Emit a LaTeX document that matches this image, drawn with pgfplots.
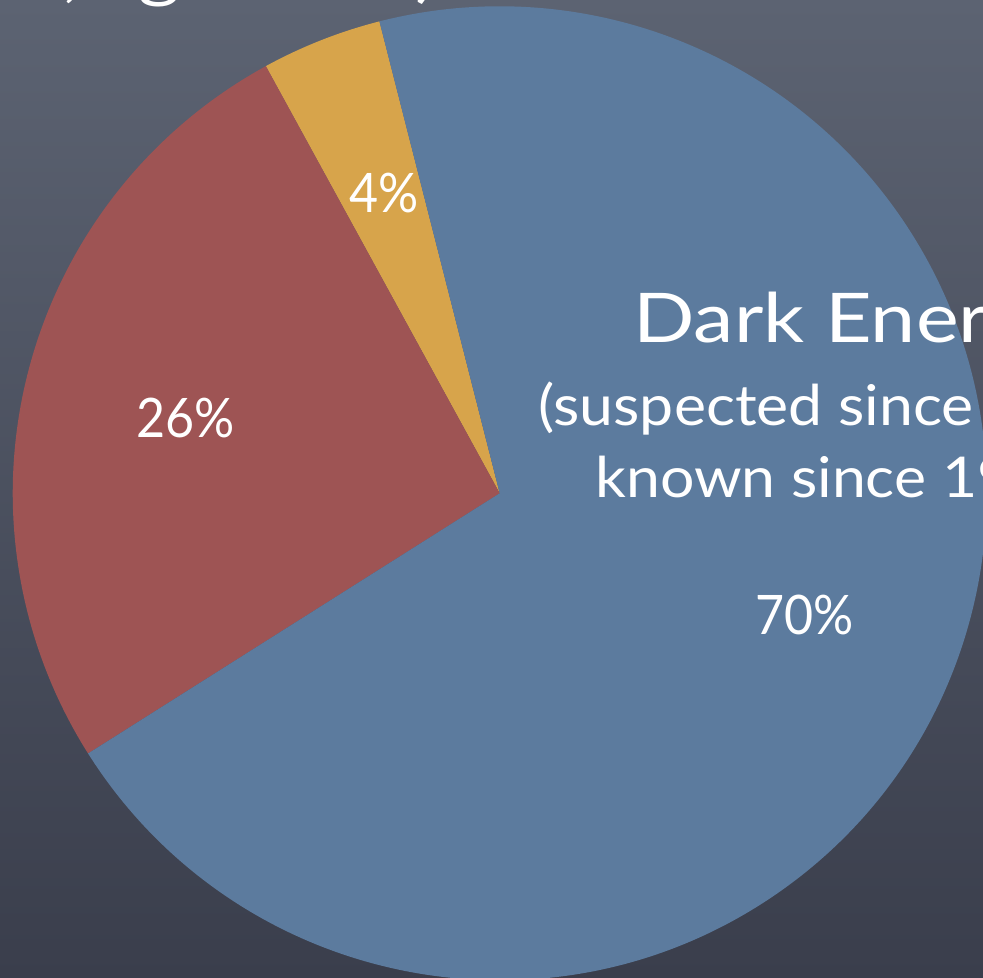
\documentclass[border=0pt]{standalone}
\usepackage{pgfplots}
\usepackage{pgfplotstable}
\pgfplotsset{compat=1.18}
\usepackage{fontspec}
\setmainfont{Lato}
\newfontfamily\titlefont[FakeStretch=1.18]{Lato}
\newfontfamily\subfont[FakeStretch=1.08]{Lato}
\newfontfamily\pctfont[FakeStretch=0.92]{Lato}
\definecolor{bgtop}{RGB}{92,99,114}
\definecolor{bgbot}{RGB}{58,62,76}
\definecolor{sliceblue}{RGB}{92,123,158}
\definecolor{slicered}{RGB}{158,84,84}
\definecolor{sliceyellow}{RGB}{215,164,75}

% pie data (percent)
\pgfplotstableread{
label value
Yellow 4
Red 26
Blue 70
}\piedata
\pgfplotstablegetelem{0}{value}\of\piedata \let\vA\pgfplotsretval
\pgfplotstablegetelem{1}{value}\of\piedata \let\vB\pgfplotsretval
\pgfplotstablegetelem{2}{value}\of\piedata \let\vC\pgfplotsretval
\pgfmathsetmacro\aS{104.3}
\pgfmathsetmacro\aA{\aS+3.6*\vA}
\pgfmathsetmacro\aB{\aA+3.6*\vB}
\pgfmathsetmacro\aC{\aB+3.6*\vC}

\begin{document}
\begin{tikzpicture}
\useasboundingbox (0,0) rectangle (9.83,9.78);
\clip (0,0) rectangle (9.83,9.78);
\shade[top color=bgtop, bottom color=bgbot] (0,0) rectangle (9.83,9.78);
\begin{axis}[at={(0,0)}, anchor=origin, x=0.01cm, y=0.01cm,
  xmin=0, xmax=983, ymin=0, ymax=978, hide axis, clip=false]
  \fill[sliceyellow] (axis cs:500,485) -- ++(\aS:4.87cm) arc[start angle=\aS, end angle=\aA, radius=4.87cm] -- cycle;
  \fill[slicered] (axis cs:500,485) -- ++(\aA:4.87cm) arc[start angle=\aA, end angle=\aB, radius=4.87cm] -- cycle;
  \fill[sliceblue] (axis cs:500,485) -- ++(\aB:4.87cm) arc[start angle=\aB, end angle=\aC, radius=4.87cm] -- cycle;
  \node[anchor=base, inner sep=0, text=white, font=\pctfont\fontsize{15.5}{18}\selectfont] at (axis cs:384,766) {4\%};
  \node[anchor=base, inner sep=0, text=white, font=\pctfont\fontsize{15.5}{18}\selectfont] at (axis cs:186,541) {26\%};
  \node[anchor=base, inner sep=0, text=white, font=\pctfont\fontsize{15.5}{18}\selectfont] at (axis cs:805,344) {70\%};
  \node[anchor=base west, inner sep=0, text=white, font=\titlefont\fontsize{19.5}{22}\selectfont] at (axis cs:633,636) {Dark Energy};
  \node[anchor=base west, inner sep=0, text=white, font=\subfont\fontsize{16}{19}\selectfont] at (axis cs:538,553) {(suspected since 1980s,};
  \node[anchor=base west, inner sep=0, text=white, font=\subfont\fontsize{16}{19}\selectfont] at (axis cs:595,481) {known since 1998)};
  \node[anchor=base east, inner sep=0, text=white, font=\titlefont\fontsize{19.5}{22}\selectfont] at (axis cs:82,984) {(stars,};
  \node[anchor=base west, inner sep=0, text=white, font=\titlefont\fontsize{19.5}{22}\selectfont] at (axis cs:138,984) {galaxies)};
\end{axis}
\end{tikzpicture}
\end{document}
